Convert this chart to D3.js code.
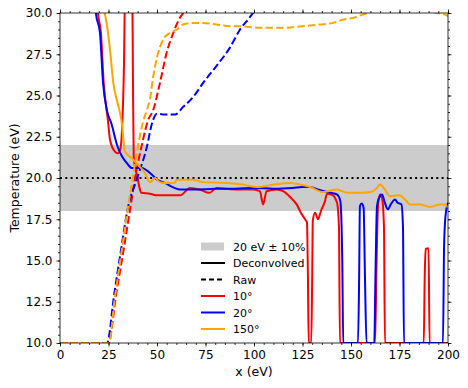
<!DOCTYPE html>
<html>
<head>
<meta charset="utf-8">
<script src="https://cdn.jsdelivr.net/npm/d3@7"></script>
<style>
  body { margin: 0; background: #fff; }
  text { font-family: "DejaVu Sans", sans-serif; }
</style>
</head>
<body>
<div id="chart"></div>
<script>
// deconvolved curves, [x, T]
const dec10 = [[19,31],[19.6,30],[21.1,28.8],[22.5,25.8],[24.7,23.5],[25.8,22.3],[28.3,21.6],[29.9,21.5],[31,21.7],[32,23],[33,27],[33.5,31],
  [37.3,31],[37.6,26],[38,21.3],[38.5,20.8],[40,20],[41,19.4],[42,19.1],[46.4,19.05],[50,18.95],[56.7,18.95],[62,18.95],[67,19.4],[72,19.3],
  [77,19.1],[80.7,19.4],[90,19.3],[99.6,19.3],[103,19.2],[104.7,18.4],[106.5,19.2],[111.7,19.3],[115,19.2],[118.6,18.85],[122,18.4],
  [124.6,17.8],[126.3,17.5],[127.3,17.3],[127.8,14],[128.2,10],[129.5,10],[130,14],[130.3,17.4],[131.5,17.9],[133,17.5],[134.5,18.0],
  [136.6,18.6],[137.6,19.05],[140,19.0],[142.8,18.5],[143.8,17],[144.3,10],[162.4,10],[163.2,15],[164,18.5],[165,19.0],[166,18.8],
  [167,17],[167.5,10],[187.5,10],[188,14],[188.5,15.7],[190,15.75],[190.5,10],[200,10]];
const dec20 = [[18,31],[18.5,30],[20.6,28.8],[22.2,25.75],[24.2,24.1],[26.5,23.3],[29.4,22.0],[32,21.3],[34.5,20.9],[37,20.6],[42,20.6],
  [47.4,20.2],[50,19.9],[54,19.7],[59,19.4],[62,19.3],[70,19.3],[80,19.35],[90,19.35],[100,19.4],[110,19.35],[120,19.4],[125,19.45],
  [129,19.45],[133,19.3],[137.6,19.15],[142.8,19.0],[144.5,18.6],[145.5,15],[146,10],[153.6,10],[154.2,14],[154.6,18.3],[155.5,18.45],
  [156.5,18.2],[157.2,14],[158,10],[162,10],[162.6,14],[163.4,18.3],[164.5,18.8],[166,19.0],[167.2,18.6],[169,18.1],[170.5,18.4],
  [172.7,18.7],[174,18.5],[176,18.4],[176.8,17],[177.3,10],[197.4,10],[198,16],[198.8,17.8],[200,18.5]];
const dec150 = [[20,31],[22,30.2],[23,30],[24,29.4],[25.8,27.75],[27.5,25.75],[30,24.4],[31.8,23.4],[33.5,21.6],[37,21.2],[41,20.7],
  [43.8,20.3],[46.4,19.75],[49,20.0],[51.5,19.75],[54,19.7],[59,19.7],[60.3,19.9],[68.6,19.9],[73.7,19.75],[86,19.7],[94.3,19.6],
  [101.5,19.45],[110,19.6],[118.6,19.7],[123.7,19.6],[129,19.45],[135.6,19.15],[142.8,19.3],[148,19.1],[154.6,19.1],[160,19.15],
  [163.4,19.4],[165,19.6],[167.5,19.3],[170,18.9],[175,18.95],[177.8,18.7],[180.4,18.4],[185.6,18.4],[190.7,18.25],[195.9,18.4],
  [198.5,18.4],[200,18.2]];

// raw curves
const raw10 = [[0,10],[24.9,10],[29,13],[33,15.8],[36,18],[38.7,20],[42,21.9],[45.4,23.5],[48,24.1],[51.5,25.75],[55,27.6],[58.4,28.8],
  [62,29.75],[63.4,30],[65,30.6]];
const raw20 = [[0,10],[24.2,10],[28,13],[31.4,15.6],[35,18.2],[39.8,20],[44.8,21.9],[47.4,23.3],[50,23.9],[53,23.85],[59.3,23.85],
  [63.4,24.3],[68.6,24.9],[73.7,25.75],[80.7,26.8],[87.6,27.9],[92.8,29.0],[97.9,29.75],[100,30.1],[102,30.5]];
const raw150 = [[0,10],[25.3,10],[28,12.5],[31.8,15.6],[35,18.2],[37.5,20],[40,21.8],[42.8,23.4],[45,24.2],[46.4,24.8],[48,26.1],
  [50,27.3],[53.2,28.4],[56.7,28.8],[60.3,29.0],[63.4,29.3],[68.6,29.4],[73.7,29.4],[80.7,29.3],[87.6,29.2],[92.8,29.2],[103,29.1],
  [115,29.1],[125,29.2],[134,29.3],[140.7,29.4],[146,29.6],[151,29.7],[156,29.9],[160,30.05],[165,30.2],[185,30.2],[192,30.05],
  [199.5,29.85],[200,29.8]];

const xTicks = [0, 25, 50, 75, 100, 125, 150, 175, 200];
const yTicks = [10.0, 12.5, 15.0, 17.5, 20.0, 22.5, 25.0, 27.5, 30.0];
const target = 20, band = [18, 22];

const series = [
  {name: "10°", color: "#ff0000", dec: dec10, raw: raw10},
  {name: "20°", color: "#0000ff", dec: dec20, raw: raw20},
  {name: "150°", color: "#ffa500", dec: dec150, raw: raw150}
];

const width = 468, height = 388;
const margin = {top: 13, right: 20, bottom: 45, left: 60};
const iw = width - margin.left - margin.right;
const ih = height - margin.top - margin.bottom;

const svg = d3.select("#chart").append("svg")
  .attr("width", width).attr("height", height);

const x = d3.scaleLinear().domain([0, 200]).range([margin.left, margin.left + iw]);
const y = d3.scaleLinear().domain([10, 30]).range([margin.top + ih, margin.top]);

svg.append("clipPath").attr("id", "clip")
  .append("rect").attr("x", margin.left).attr("y", margin.top).attr("width", iw).attr("height", ih);

const plot = svg.append("g").attr("clip-path", "url(#clip)");

plot.append("rect")
  .attr("x", x(0)).attr("width", x(200) - x(0))
  .attr("y", y(band[1])).attr("height", y(band[0]) - y(band[1]))
  .attr("fill", "#cccccc");

plot.append("line")
  .attr("x1", x(0)).attr("x2", x(200)).attr("y1", y(target)).attr("y2", y(target))
  .attr("stroke", "black").attr("stroke-width", 2).attr("stroke-dasharray", "2,3.3");

const line = d3.line().x(d => x(d[0])).y(d => y(d[1])).curve(d3.curveMonotoneX);

series.forEach(s => {
  plot.append("path").datum(s.dec)
    .attr("d", line).attr("fill", "none")
    .attr("stroke", s.color).attr("stroke-width", 2).attr("stroke-linejoin", "round");
  plot.append("path").datum(s.raw)
    .attr("d", line).attr("fill", "none")
    .attr("stroke", s.color).attr("stroke-width", 2).attr("stroke-dasharray", "7.4,3.2");
});

// axes, ticks outward on all four sides
function styleAxis(g) {
  g.select(".domain").remove();
  g.selectAll("line").attr("stroke", "black").attr("stroke-width", 0.8);
  g.selectAll("text").attr("font-size", "12px").attr("fill", "black");
}
const xMinor = d3.range(0, 201, 5);
const yMinor = d3.range(10, 30.01, 0.5);

svg.append("g").attr("transform", `translate(0,${margin.top + ih})`)
  .call(d3.axisBottom(x).tickValues(xMinor).tickSize(2).tickFormat(""))
  .call(styleAxis);
svg.append("g").attr("transform", `translate(0,${margin.top + ih})`)
  .call(d3.axisBottom(x).tickValues(xTicks).tickSize(3.5).tickPadding(4).tickFormat(d3.format("d")))
  .call(styleAxis);
svg.append("g").attr("transform", `translate(0,${margin.top})`)
  .call(d3.axisTop(x).tickValues(xMinor).tickSize(2).tickFormat(""))
  .call(styleAxis);
svg.append("g").attr("transform", `translate(0,${margin.top})`)
  .call(d3.axisTop(x).tickValues(xTicks).tickSize(3.5).tickFormat(""))
  .call(styleAxis);
svg.append("g").attr("transform", `translate(${margin.left},0)`)
  .call(d3.axisLeft(y).tickValues(yMinor).tickSize(2).tickFormat(""))
  .call(styleAxis);
svg.append("g").attr("transform", `translate(${margin.left},0)`)
  .call(d3.axisLeft(y).tickValues(yTicks).tickSize(3.5).tickPadding(4).tickFormat(d3.format(".1f")))
  .call(styleAxis);
svg.append("g").attr("transform", `translate(${margin.left + iw},0)`)
  .call(d3.axisRight(y).tickValues(yMinor).tickSize(2).tickFormat(""))
  .call(styleAxis);
svg.append("g").attr("transform", `translate(${margin.left + iw},0)`)
  .call(d3.axisRight(y).tickValues(yTicks).tickSize(3.5).tickFormat(""))
  .call(styleAxis);

svg.append("rect")
  .attr("x", margin.left).attr("y", margin.top).attr("width", iw).attr("height", ih)
  .attr("fill", "none").attr("stroke", "black").attr("stroke-width", 0.8);

svg.append("text")
  .attr("x", margin.left + iw / 2).attr("y", 376)
  .attr("text-anchor", "middle").attr("font-size", "12.5px")
  .text("x (eV)");
svg.append("text")
  .attr("transform", `translate(19,${margin.top + ih / 2}) rotate(-90)`)
  .attr("text-anchor", "middle").attr("font-size", "12.5px")
  .text("Temperature (eV)");

// legend
const legend = svg.append("g").attr("transform", "translate(201,246.5)");
const rowH = 16.5;
const items = [
  {label: "20 eV ± 10%", kind: "patch"},
  {label: "Deconvolved", kind: "line", color: "black"},
  {label: "Raw", kind: "dash", color: "black"},
  ...series.map(s => ({label: s.name, kind: "line", color: s.color}))
];
items.forEach((it, i) => {
  const g = legend.append("g").attr("transform", `translate(0,${i * rowH})`);
  if (it.kind === "patch") {
    g.append("rect").attr("x", 0).attr("y", -4).attr("width", 23).attr("height", 8).attr("fill", "#cccccc");
  } else {
    g.append("line").attr("x1", 0).attr("x2", 24).attr("y1", 0).attr("y2", 0)
      .attr("stroke", it.color).attr("stroke-width", 2)
      .attr("stroke-dasharray", it.kind === "dash" ? "5,3" : null);
  }
  g.append("text").attr("x", 32).attr("y", 4).attr("font-size", "11px").text(it.label);
});
</script>
</body>
</html>
